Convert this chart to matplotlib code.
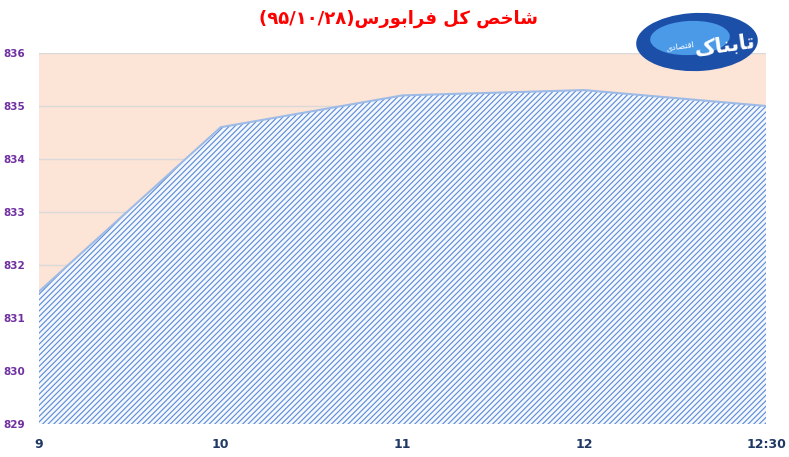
import matplotlib.pyplot as plt
from matplotlib.patches import Ellipse

# data
times = ["9", "10", "11", "12", "12:30"]
index_values = [831.5, 834.6, 835.2, 835.3, 835.0]
y_ticks = [829, 830, 831, 832, 833, 834, 835, 836]

# Persian text written in visual order with presentation forms (no shaping in matplotlib)
title_text = ("(\u06f9\u06f5/\u06f1\u06f0/\u06f2\u06f8)"
              "\ufeb1\ufead\ufeee\ufe91\ufe8d\ufeae\ufed3"
              " \ufede\ufb90 "
              "\ufeba\ufea7\ufe8e\ufeb7")
logo_big = "\ufb8e\ufe8e\ufee8\ufe91\ufe8e\ufe97"
logo_small = "\ufbfc\ufea9\ufe8e\ufebc\ufe98\ufed7\ufe8d"

plt.rcParams["hatch.linewidth"] = 0.8

fig = plt.figure(figsize=(7.89, 4.57), dpi=100)
ax = fig.add_axes([39 / 789, 1 - 424 / 457, (766 - 39) / 789, (424 - 53) / 457])
ax.set_facecolor("#fce4d6")

xs = list(range(len(times)))
ax.fill_between(xs, y_ticks[0], index_values, facecolor="#f4f8fd",
                edgecolor="#5a8ad6", hatch="//////", linewidth=0, zorder=2)
ax.plot(xs, index_values, color="#9dbbe6", linewidth=1.5, zorder=3)

ax.set_xlim(0, len(times) - 1)
ax.set_ylim(y_ticks[0], y_ticks[-1])
ax.set_yticks(y_ticks)
ax.set_xticks(xs)
ax.set_xticklabels(times)
ax.grid(axis="y", color="#d9d9d9", linewidth=1, zorder=1)
ax.set_axisbelow(True)
for s in ax.spines.values():
    s.set_visible(False)
ax.tick_params(length=0)
ax.tick_params(axis="y", pad=10, labelcolor="#7030a0", labelsize=7.5)
ax.tick_params(axis="x", pad=10, labelcolor="#1f3864", labelsize=9)
for lab in ax.get_yticklabels() + ax.get_xticklabels():
    lab.set_fontweight("bold")

fig.text(0.505, 0.958, title_text, color="red", fontsize=13, fontweight="bold",
         ha="center", va="center", family="DejaVu Sans")

# rough stand-in for the logo
fig.patches.append(Ellipse((697 / 789, 1 - 42 / 457), 122 / 789, 58 / 457, angle=8,
                           transform=fig.transFigure, facecolor="#1b4fa8",
                           edgecolor="none", zorder=5))
fig.patches.append(Ellipse((690 / 789, 1 - 38 / 457), 80 / 789, 34 / 457, angle=8,
                           transform=fig.transFigure, facecolor="#4a9ae8",
                           edgecolor="none", zorder=5))
fig.text(725 / 789, 1 - 45 / 457, logo_big, color="white", fontsize=15,
         fontweight="bold", ha="center", va="center", zorder=6, rotation=8)
fig.text(680 / 789, 1 - 46 / 457, logo_small, color="white", fontsize=6,
         ha="center", va="center", zorder=6, rotation=8)

fig.savefig("out.png", dpi=100)
